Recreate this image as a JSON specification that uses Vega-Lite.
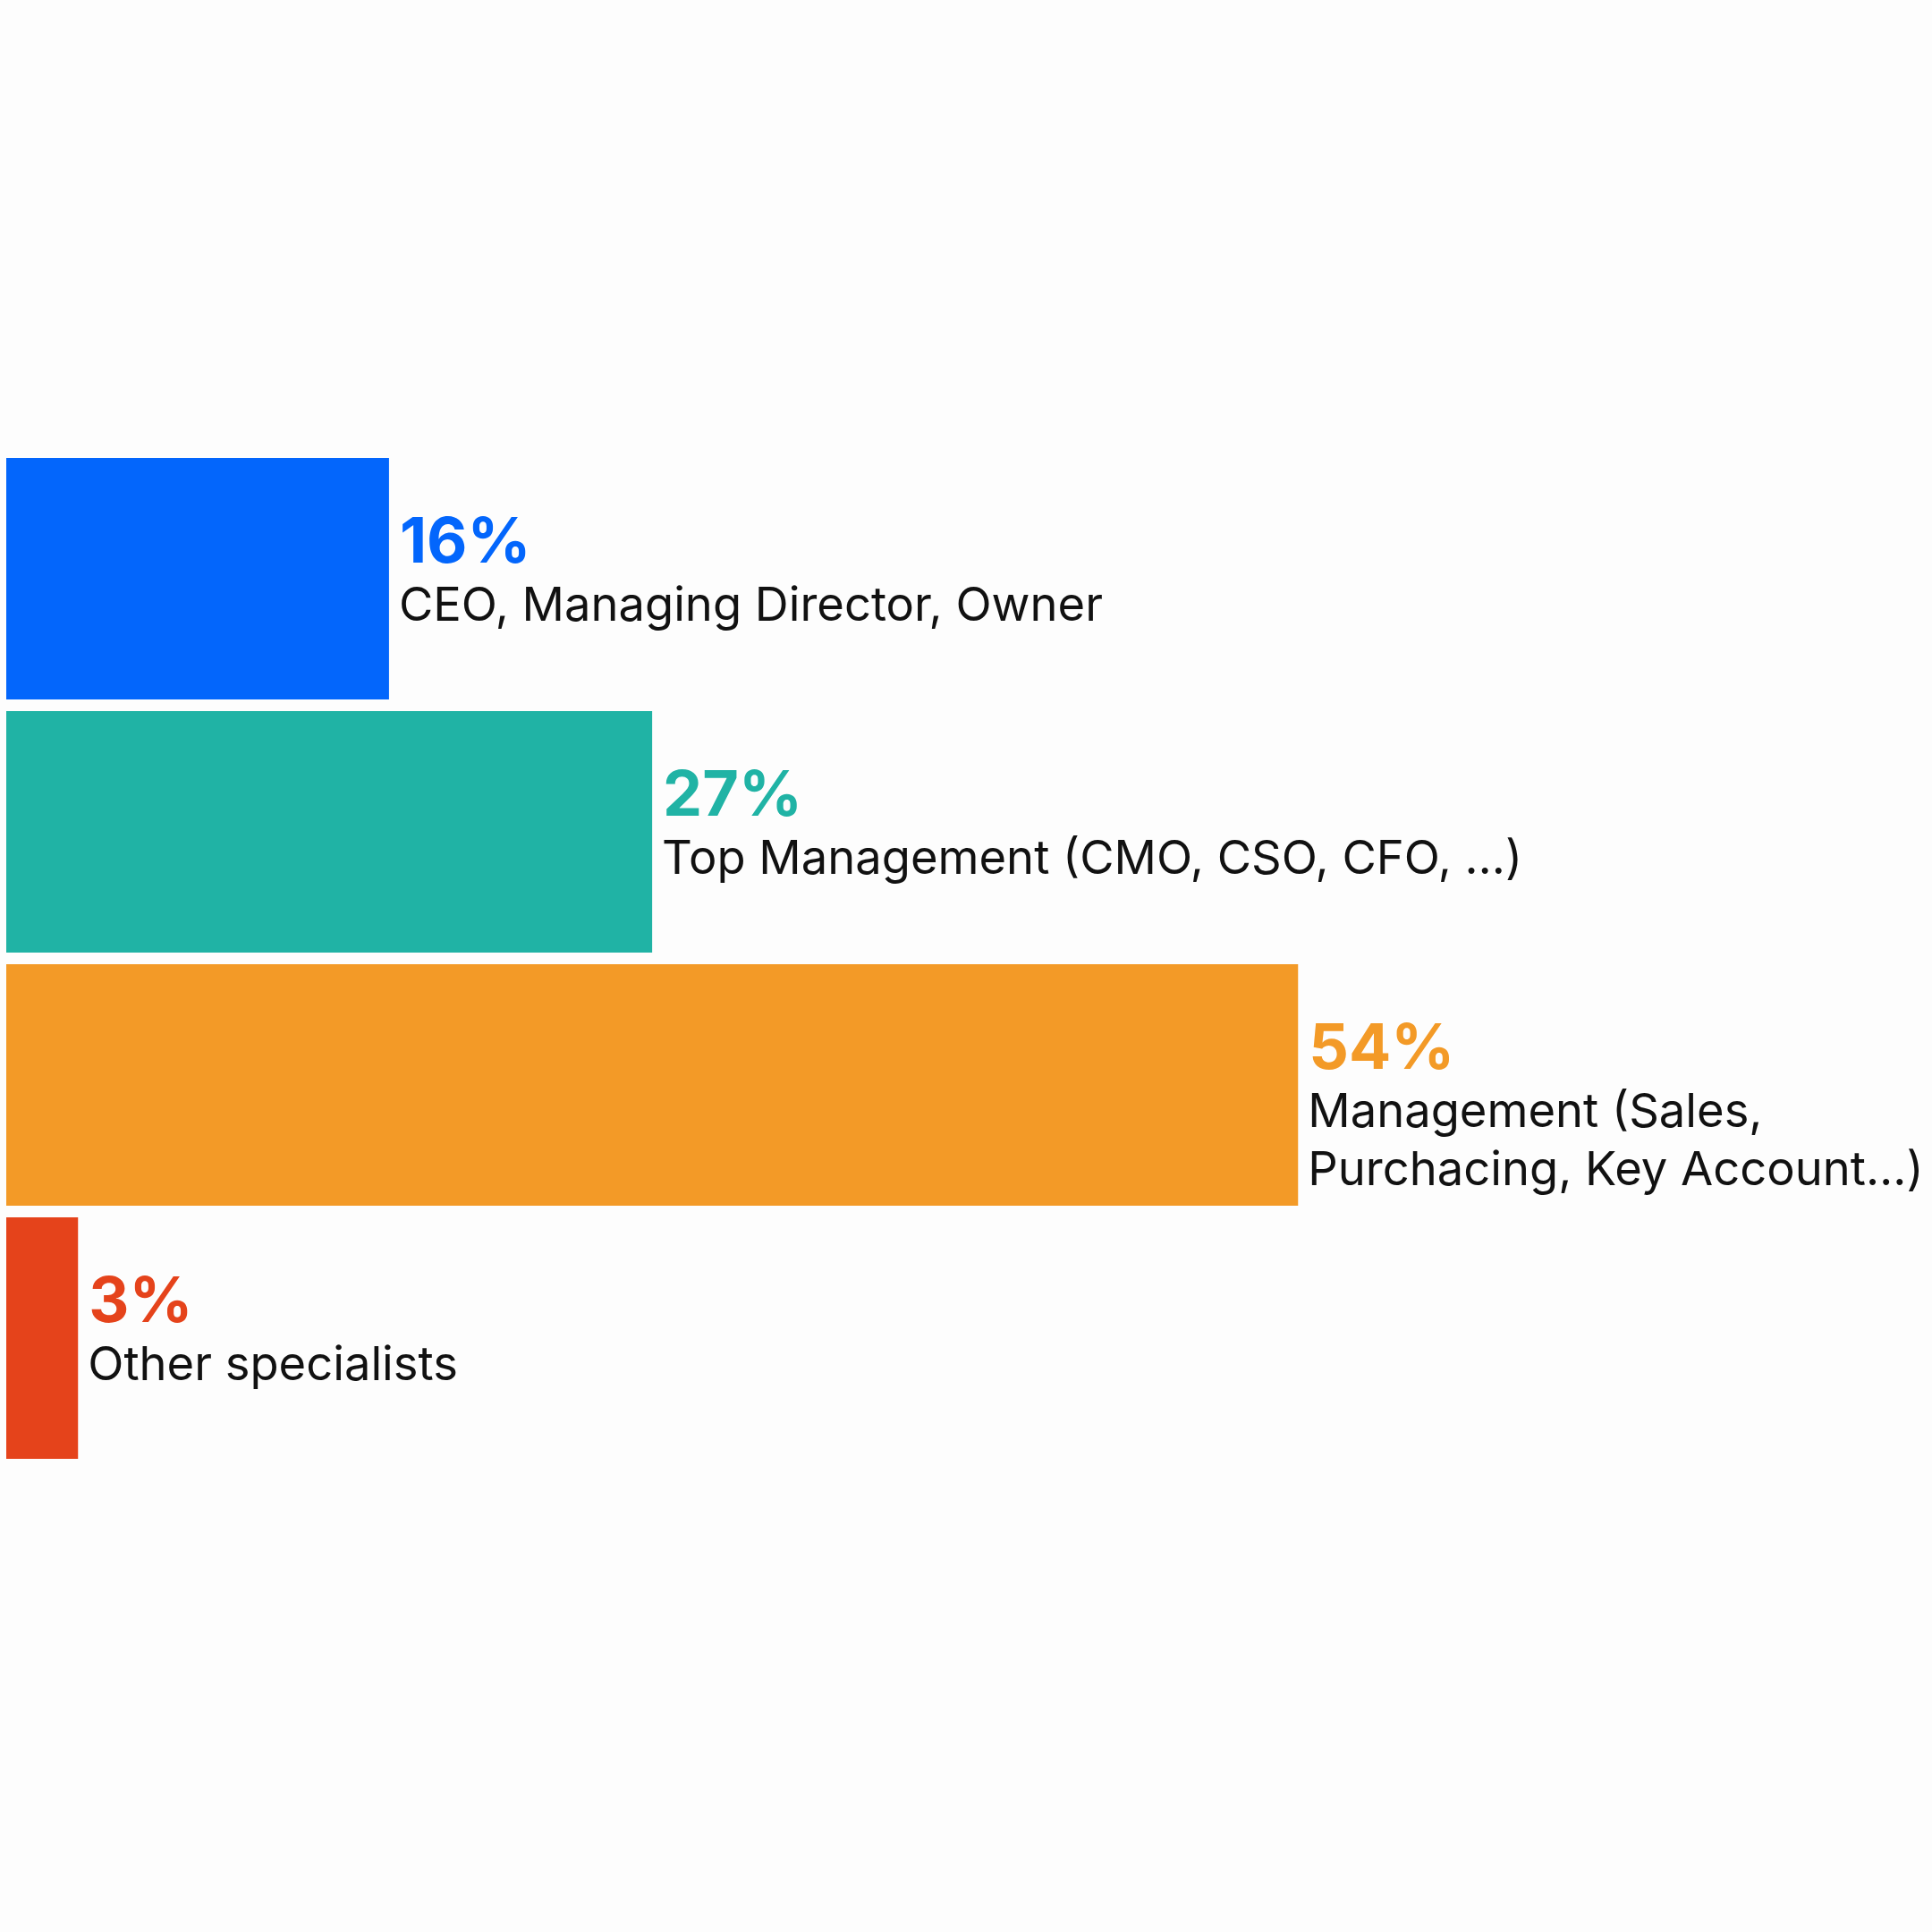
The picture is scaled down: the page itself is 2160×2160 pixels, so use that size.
{
  "$schema": "https://vega.github.io/schema/vega-lite/v6.json",
  "width": 2153,
  "height": 1119,
  "autosize": "none",
  "padding": {"left": 7, "right": 0, "top": 512, "bottom": 529},
  "background": "#fdfdfd",
  "config": {"view": {"stroke": null}},
  "data": {
    "values": [
      {"role": "CEO, Managing Director, Owner", "text": "CEO, Managing Director, Owner", "pct": 16, "pctLabel": "16%"},
      {"role": "Top Management (CMO, CSO, CFO, …)", "text": "Top Management (CMO, CSO, CFO, …)", "pct": 27, "pctLabel": "27%"},
      {"role": "Management (Sales, Purchacing, Key Account…)", "text": "Management (Sales,\nPurchacing, Key Account…)", "pct": 54, "pctLabel": "54%"},
      {"role": "Other specialists", "text": "Other specialists", "pct": 3, "pctLabel": "3%"}
    ]
  },
  "encoding": {
    "y": {
      "field": "role",
      "type": "nominal",
      "sort": null,
      "axis": null,
      "scale": {"paddingInner": 0.046, "paddingOuter": 0}
    },
    "x": {
      "field": "pct",
      "type": "quantitative",
      "axis": null,
      "scale": {"domain": [0, 80.5], "nice": false, "zero": true}
    }
  },
  "layer": [
    {
      "mark": {"type": "bar"},
      "encoding": {
        "color": {
          "field": "role",
          "type": "nominal",
          "legend": null,
          "scale": {
            "domain": ["CEO, Managing Director, Owner", "Top Management (CMO, CSO, CFO, …)", "Management (Sales, Purchacing, Key Account…)", "Other specialists"],
            "range": ["#0366FC", "#20B3A5", "#F39A27", "#E5431B"]
          }
        }
      }
    },
    {
      "mark": {"type": "text", "align": "left", "baseline": "alphabetic", "dx": 12, "dy": -18, "font": "Inter", "fontWeight": 700, "fontSize": 70},
      "encoding": {
        "text": {"field": "pctLabel"},
        "color": {"field": "role", "type": "nominal", "legend": null}
      }
    },
    {
      "mark": {"type": "text", "align": "left", "baseline": "alphabetic", "dx": 11, "dy": 47, "font": "Inter", "fontSize": 52.5, "lineHeight": 65, "lineBreak": "\n", "color": "#111111"},
      "encoding": {
        "text": {"field": "text"}
      }
    }
  ]
}
